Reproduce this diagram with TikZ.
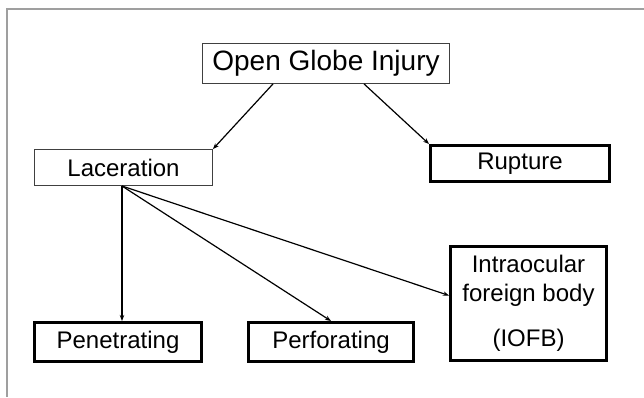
\documentclass[tikz,border=0pt]{standalone}
\usepackage{fontspec}
\setmainfont{Liberation Sans}
\usetikzlibrary{arrows.meta,positioning}

\tikzset{
	thinbox/.style={draw=black!75, line width=0.8pt, inner sep=0pt, font=\fontsize{24}{29}\selectfont},
	thickbox/.style={draw=black, line width=3pt, inner sep=0pt, align=center, font=\fontsize{24}{29}\selectfont},
}

\begin{document}
\begin{tikzpicture}[x=1pt, y=-1pt]
						\useasboundingbox (0,0) rectangle (644,397);
						\draw[gray!75, line width=2pt] (644,9) -- (7,9) -- (7,397);

						\node[thinbox, minimum width=247pt, minimum height=40pt, font=\fontsize{28}{32}\selectfont] (ogi) at (326,63.5) {Open Globe Injury};
						\node[thinbox, minimum width=178pt, minimum height=36pt] (lac) at (123.5,167.5) {Laceration};
						\node[thickbox, minimum width=179pt, minimum height=36pt] (rup) at (520,163.5) {Rupture};
						\node[thickbox, minimum width=167pt, minimum height=39pt] (pen) at (118,342) {Penetrating};
						\node[thickbox, minimum width=165pt, minimum height=39pt] (perf) at (331,342) {Perforating};
						\node[thickbox, minimum width=156pt, minimum height=114pt] (iofb) at (528.5,303.5) {Intraocular\\foreign body\\[16pt](IOFB)};

						\coordinate (fan) at (122,186);

						\path[-{Stealth[length=6pt,width=4.5pt]}, line width=1.2pt]
						(ogi.south -| 273,0) edge (lac.north east)
						(ogi.south -| 364,0) edge (rup.north west)
						(fan) edge (pen.north -| fan)
						edge (perf.north)
						edge ([yshift=8pt]iofb.west);
					\end{tikzpicture}
\end{document}
